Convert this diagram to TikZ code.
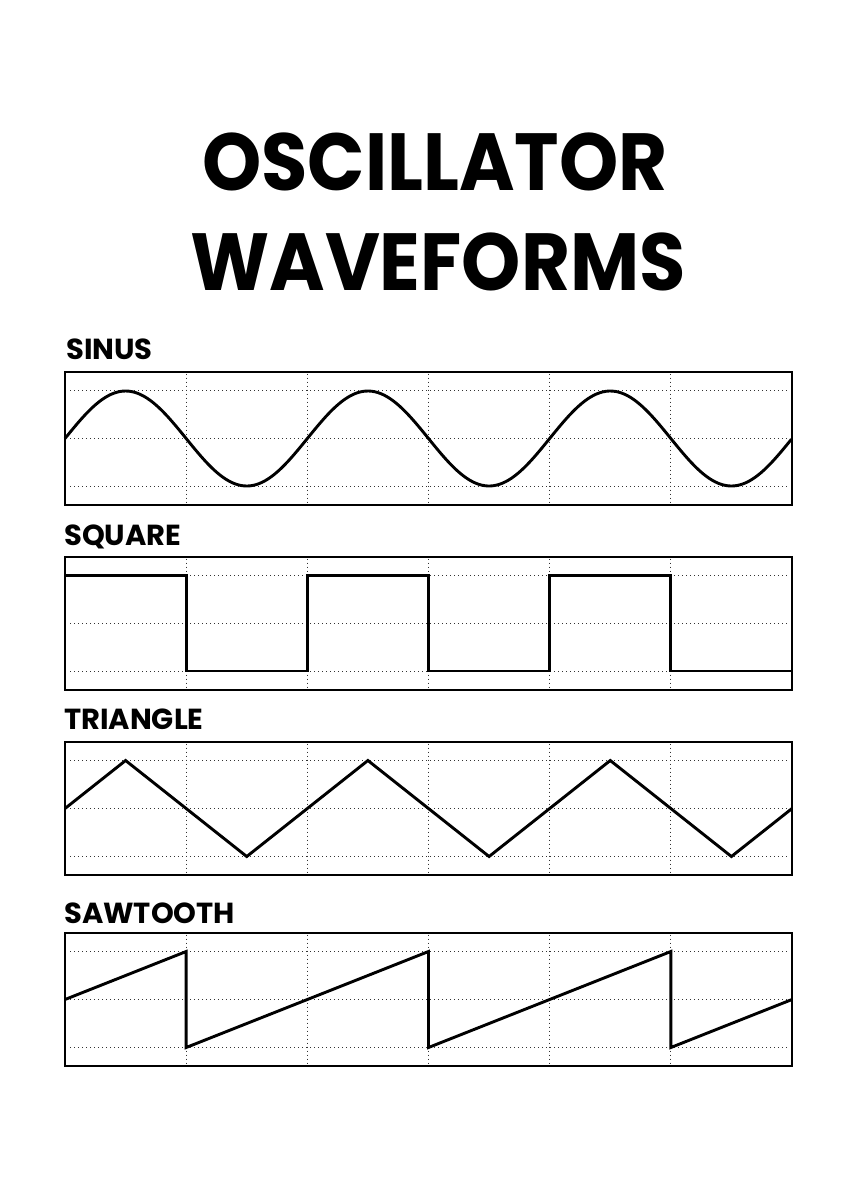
\documentclass[tikz,border=0pt]{standalone}
\usepackage{fontspec}
\setmainfont{Poppins}
\newfontfamily\titlefont{Poppins}[FakeStretch=0.93]
\begin{document}
\begin{tikzpicture}[x=1pt,y=-1pt,
  frame/.style={draw=black,line width=2.6pt},
  wave/.style={draw=black,line width=2.9pt,line join=miter},
  gridline/.style={draw=black!80,line width=1.1pt,dash pattern=on 1.1pt off 2.9pt},
  title/.style={font=\titlefont\fontsize{81}{81}\selectfont\bfseries,anchor=base,inner sep=0pt},
  label/.style={font=\fontsize{29}{29}\selectfont\bfseries,anchor=base west,inner sep=0pt}]
\path[fill=white,use as bounding box] (0,0) rectangle (857,1200);
\def\W{121.1667}
% titles
\node[title] (t1) at (435,190) {OSCILLATOR};
\node[title] (t2) at (438,290) {WAVEFORMS};
% labels
\node[label] (l1) at (66,359) {SINUS};
\node[label] (l2) at (64,545) {SQUARE};
\node[label] (l3) at (64,729) {TRIANGLE};
\node[label] (l4) at (64,923) {SAWTOOTH};
% grids
\foreach \T in {372,557,742,933}{
  \foreach \k in {1,...,5}{
    \draw[gridline] ({65+\k*\W},\T+1.5) -- ({65+\k*\W},\T+131.5);
  }
  \foreach \dy in {18.5,66.5,114.5}{
    \draw[gridline] (70,\T+\dy) -- (788,\T+\dy);
  }
}
% sine
\draw[wave] plot[domain=0:3,samples=240,smooth] ({65+\x*2*\W},{438.5-47.5*sin(\x*360)});
% square
\draw[wave] (65,575.5) -- (65+\W,575.5) -- (65+\W,671) -- (65+2*\W,671) -- (65+2*\W,575.5)
  -- (65+3*\W,575.5) -- (65+3*\W,671) -- (65+4*\W,671) -- (65+4*\W,575.5)
  -- (65+5*\W,575.5) -- (65+5*\W,671) -- (792,671);
% triangle
\draw[wave] (65,808.5) -- (65+0.5*\W,760.5) -- (65+1.5*\W,856.5) -- (65+2.5*\W,760.5)
  -- (65+3.5*\W,856.5) -- (65+4.5*\W,760.5) -- (65+5.5*\W,856.5) -- (792,808.5);
% sawtooth
\draw[wave] (65,999.5) -- (65+\W,951.5) -- (65+\W,1047.5) -- (65+3*\W,951.5)
  -- (65+3*\W,1047.5) -- (65+5*\W,951.5) -- (65+5*\W,1047.5) -- (792,999.5);
% frames
\draw[frame] (65,372) rectangle (792,505);
\draw[frame] (65,557) rectangle (792,690);
\draw[frame] (65,742) rectangle (792,875);
\draw[frame] (65,933) rectangle (792,1066);
\end{tikzpicture}
\end{document}
